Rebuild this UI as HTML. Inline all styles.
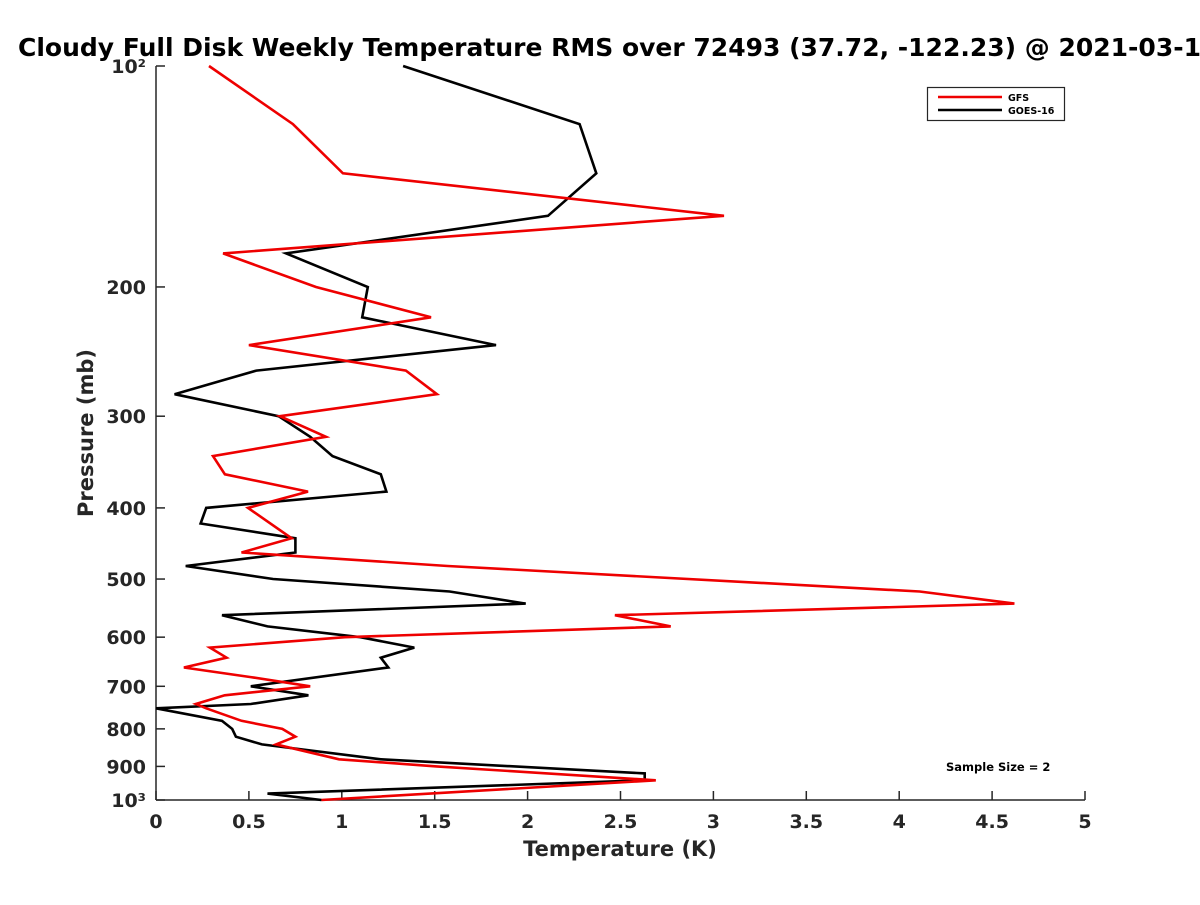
<!DOCTYPE html>
<html><head><meta charset="utf-8"><style>
body{margin:0;background:#fff;font-family:"Liberation Sans","DejaVu Sans",sans-serif;overflow:hidden}
svg text{font-family:"DejaVu Sans","Liberation Sans",sans-serif;font-weight:bold}
</style></head><body>
<svg id="chart" width="1200" height="900" xmlns="http://www.w3.org/2000/svg">
<rect width="1200" height="900" fill="#fff"/>
<text x="18" y="56" font-size="25" fill="#000">Cloudy Full Disk Weekly Temperature RMS over 72493 (37.72, -122.23) @ 2021-03-1</text>
<g id="axes"></g>
<g id="series"></g>
<text transform="translate(93,433) rotate(-90)" text-anchor="middle" font-size="21" fill="#262626">Pressure (mb)</text>
<text x="620" y="856" text-anchor="middle" font-size="21" fill="#262626">Temperature (K)</text>
<text x="946" y="771" font-size="11.5" fill="#000">Sample Size = 2</text>
<g>
<rect x="927.5" y="87.5" width="137" height="33" fill="#fff" stroke="#262626" stroke-width="1.2"/>
<line x1="938" y1="97" x2="1002" y2="97" stroke="#e00" stroke-width="2.5"/>
<text x="1008" y="101" font-size="9.5">GFS</text>
<line x1="938" y1="110" x2="1002" y2="110" stroke="#000" stroke-width="2.5"/>
<text x="1008" y="114" font-size="9.5">GOES-16</text>
</g>
</svg>
<script>
const xTicks=[0,0.5,1,1.5,2,2.5,3,3.5,4,4.5,5];
const yTicks=[100,200,300,400,500,600,700,800,900,1000];
const yTickLabels=["10²","200","300","400","500","600","700","800","900","10³"];
const gfsP=[100,120,140,160,180,200,220,240,260,280,300,320,340,360,380,400,440,460,480,520,540,560,580,600,620,640,660,680,700,720,740,750,780,800,820,840,880,900,940,1000];
const gfsT=[0.285,0.737,1.006,3.057,0.361,0.861,1.48,0.50,1.345,1.512,0.667,0.915,0.307,0.371,0.818,0.495,0.73,0.46,1.57,4.11,4.62,2.47,2.77,1.017,0.29,0.38,0.15,0.51,0.83,0.37,0.215,0.27,0.46,0.68,0.75,0.646,0.985,1.51,2.69,0.89];
const goesP=[100,120,140,160,180,200,220,240,260,280,300,320,340,360,380,400,420,440,460,480,500,520,540,560,580,600,620,640,660,700,720,740,750,780,800,820,840,880,920,940,980,1000];
const goesT=[1.33,2.28,2.37,2.11,0.70,1.14,1.11,1.83,0.54,0.10,0.66,0.83,0.95,1.21,1.24,0.27,0.24,0.75,0.75,0.16,0.63,1.58,1.99,0.355,0.60,1.10,1.39,1.21,1.25,0.51,0.82,0.51,0.0,0.355,0.41,0.43,0.57,1.21,2.63,2.63,0.60,0.89];
const X0=156,X1=1085,Y0=66,Y1=800;
const xs=t=>X0+(t/5)*(X1-X0);
const ys=p=>Y0+Math.log10(p/100)*(Y1-Y0);
const NS="http://www.w3.org/2000/svg";
const ax=document.getElementById('axes');
function mk(tag,attrs,parent){const e=document.createElementNS(NS,tag);for(const k in attrs)e.setAttribute(k,attrs[k]);parent.appendChild(e);return e;}
let l=mk('line',{x1:X0,y1:Y0,x2:X0,y2:Y1,stroke:'#262626','stroke-width':1.5},ax);


l=mk('line',{x1:X0,y1:Y1,x2:X1,y2:Y1,stroke:'#262626','stroke-width':1.5},ax);


xTicks.forEach(t=>{
 const x=xs(t);
 const tk=mk('line',{x1:x,y1:Y1,x2:x,y2:Y1-9,stroke:'#262626','stroke-width':1.5},ax);
 
 
 const tx=mk('text',{x:x,y:Y1+28,'text-anchor':'middle','font-size':19,fill:'#262626'},ax);
 tx.textContent=String(t);
 
 
});
yTicks.forEach((p,i)=>{
 const y=ys(p);
 const tk=mk('line',{x1:X0,y1:y,x2:X0+9,y2:y,stroke:'#262626','stroke-width':1.5},ax);
 
 
 const tx=mk('text',{x:X0-10,y:y+7,'text-anchor':'end','font-size':19,fill:'#262626'},ax);
 tx.textContent=yTickLabels[i];
 
 
});
const sg=document.getElementById('series');
function line(P,T,color,name){
 const pts=P.map((p,i)=>xs(T[i]).toFixed(1)+','+ys(p).toFixed(1)).join(' ');
 const pl=mk('polyline',{points:pts,fill:'none',stroke:color,'stroke-width':2.6,'stroke-linejoin':'miter'},sg);
 
 
}
line(goesP,goesT,'#000','goes16-line');
line(gfsP,gfsT,'#e00','gfs-line');
</script>
</body></html>
